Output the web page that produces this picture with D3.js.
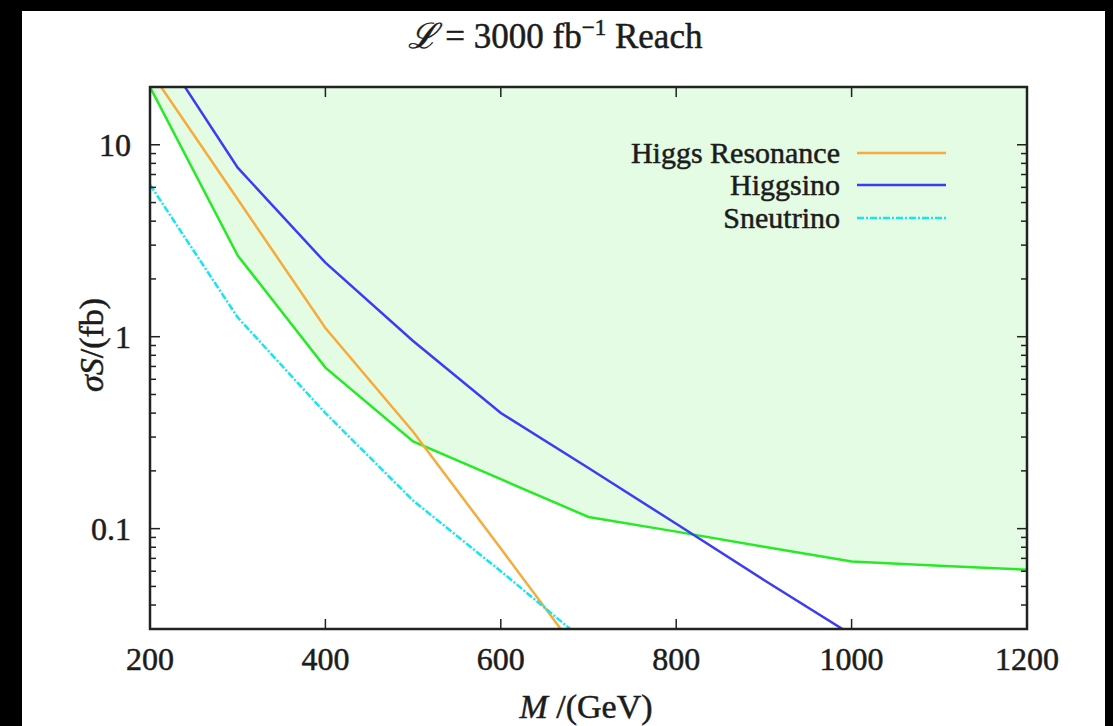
<!DOCTYPE html>
<html>
<head>
<meta charset="utf-8">
<script src="https://cdn.jsdelivr.net/npm/d3@7"></script>
<style>
  html, body { margin: 0; padding: 0; background: #000; }
  svg { display: block; }
  text { font-family: "Liberation Serif", "DejaVu Serif", serif; fill: #1c1c1c; stroke: #1c1c1c; stroke-width: 0.5px; }
</style>
</head>
<body>
<svg width="1113" height="726"></svg>
<script>
// data
const masses = [200, 300, 400, 500, 600, 700, 800, 900, 1000, 1100, 1200];
const reach = [20, 2.65, 0.69, 0.285, 0.181, 0.115, 0.0965, 0.0805, 0.0674, 0.064, 0.0611];
const higgsResonance = [24.3, 5.2, 1.11, 0.32, 0.0787, 0.0192];
const higgsino = [38, 7.6, 2.43, 0.95, 0.40, 0.207, 0.106, 0.054, 0.028];
const sneutrino = [6.2, 1.26, 0.40, 0.14, 0.06, 0.025];
const xTicks = [200, 400, 600, 800, 1000, 1200];
const yMajor = [0.1, 1, 10];

const series = [
    {name: "Higgs Resonance", values: higgsResonance, color: "#f6ab3a", dash: null},
    {name: "Higgsino", values: higgsino, color: "#3c3cf2", dash: null},
    {name: "Sneutrino", values: sneutrino, color: "#14e6f2", dash: "7,2,2,2"}
];

const svg = d3.select("svg");

// white page on black
svg.append("rect").attr("x", 22).attr("y", 11).attr("width", 1083).attr("height", 715).style("fill", "#fff");

const pL = 150, pR = 1027, pT = 87, pB = 629;
const x = d3.scaleLinear().domain([200, 1200]).range([pL, pR]);
const y = d3.scaleLog().domain([0.03, 20]).range([pB, pT]);

svg.append("clipPath").attr("id", "plot")
    .append("rect").attr("x", pL).attr("y", pT).attr("width", pR - pL).attr("height", pB - pT);

const g = svg.append("g").attr("clip-path", "url(#plot)");

// shaded reach region above the green curve
const reachPts = masses.map((m, i) => [m, reach[i]]);
g.append("path")
    .datum(reachPts)
    .attr("d", d3.area().x(d => x(d[0])).y0(pT).y1(d => y(d[1])))
    .style("fill", "#e4fbe4");

const line = d3.line().x(d => x(d[0])).y(d => y(d[1]));

g.append("path")
    .datum(reachPts)
    .attr("d", line)
    .style("fill", "none")
    .style("stroke", "#26ea26")
    .style("stroke-width", 2.5);

series.forEach(s => {
    g.append("path")
        .datum(s.values.map((v, i) => [masses[i], v]))
        .attr("d", line)
        .style("fill", "none")
        .style("stroke", s.color)
        .style("stroke-width", 2.5)
        .style("stroke-dasharray", s.dash);
});

// axes with inward ticks on all four sides
const yAll = y.ticks().filter(v => v >= 0.03 && v <= 20);
const yMinor = yAll.filter(v => !yMajor.some(m => Math.abs(m - v) < 1e-9));

const ax = svg.append("g").style("stroke", "#222").style("stroke-width", 1.5);
xTicks.forEach(v => {
    ax.append("line").attr("x1", x(v)).attr("x2", x(v)).attr("y1", pB).attr("y2", pB - 10);
    ax.append("line").attr("x1", x(v)).attr("x2", x(v)).attr("y1", pT).attr("y2", pT + 10);
});
yMajor.forEach(v => {
    ax.append("line").attr("x1", pL).attr("x2", pL + 10).attr("y1", y(v)).attr("y2", y(v));
    ax.append("line").attr("x1", pR).attr("x2", pR - 10).attr("y1", y(v)).attr("y2", y(v));
});
yMinor.forEach(v => {
    ax.append("line").attr("x1", pL).attr("x2", pL + 6).attr("y1", y(v)).attr("y2", y(v));
    ax.append("line").attr("x1", pR).attr("x2", pR - 6).attr("y1", y(v)).attr("y2", y(v));
});

svg.append("rect")
    .attr("x", pL).attr("y", pT).attr("width", pR - pL).attr("height", pB - pT)
    .style("fill", "none").style("stroke", "#222").style("stroke-width", 2.5);

// tick labels
svg.selectAll(".xlab").data(xTicks).enter().append("text")
    .attr("x", d => x(d)).attr("y", 670)
    .attr("text-anchor", "middle")
    .style("font-size", "32px")
    .text(d => d);

svg.selectAll(".ylab").data(yMajor).enter().append("text")
    .attr("x", 131).attr("y", d => y(d)).attr("dy", "0.35em")
    .attr("text-anchor", "end")
    .style("font-size", "32px")
    .text(d => d);

// axis titles
const xt = svg.append("text").attr("x", 586).attr("y", 718).attr("text-anchor", "middle").style("font-size", "34px");
xt.append("tspan").style("font-style", "italic").text("M");
xt.append("tspan").text(" /(GeV)");

const yt = svg.append("text")
    .attr("transform", "translate(103,345) rotate(-90)")
    .attr("text-anchor", "middle").style("font-size", "34px");
yt.append("tspan").style("font-style", "italic").text("σS");
yt.append("tspan").text("/(fb)");

// title
const tt = svg.append("text").attr("x", 555).attr("y", 48).attr("text-anchor", "middle").style("font-size", "35px");
tt.append("tspan").style("font-style", "italic").text("ℒ");
tt.append("tspan").text(" = 3000 fb");
tt.append("tspan").attr("dy", -13).style("font-size", "23px").text("−1");
tt.append("tspan").attr("dy", 13).text(" Reach");

// legend
series.forEach((s, i) => {
    const ly = [153, 185, 218][i];
    svg.append("text").attr("x", 840).attr("y", ly).attr("dy", "0.33em")
        .attr("text-anchor", "end").style("font-size", "30px").text(s.name);
    svg.append("line").attr("x1", 857).attr("x2", 946).attr("y1", ly).attr("y2", ly)
        .style("stroke", s.color).style("stroke-width", 2.5).style("stroke-dasharray", s.dash);
});
</script>
</body>
</html>
